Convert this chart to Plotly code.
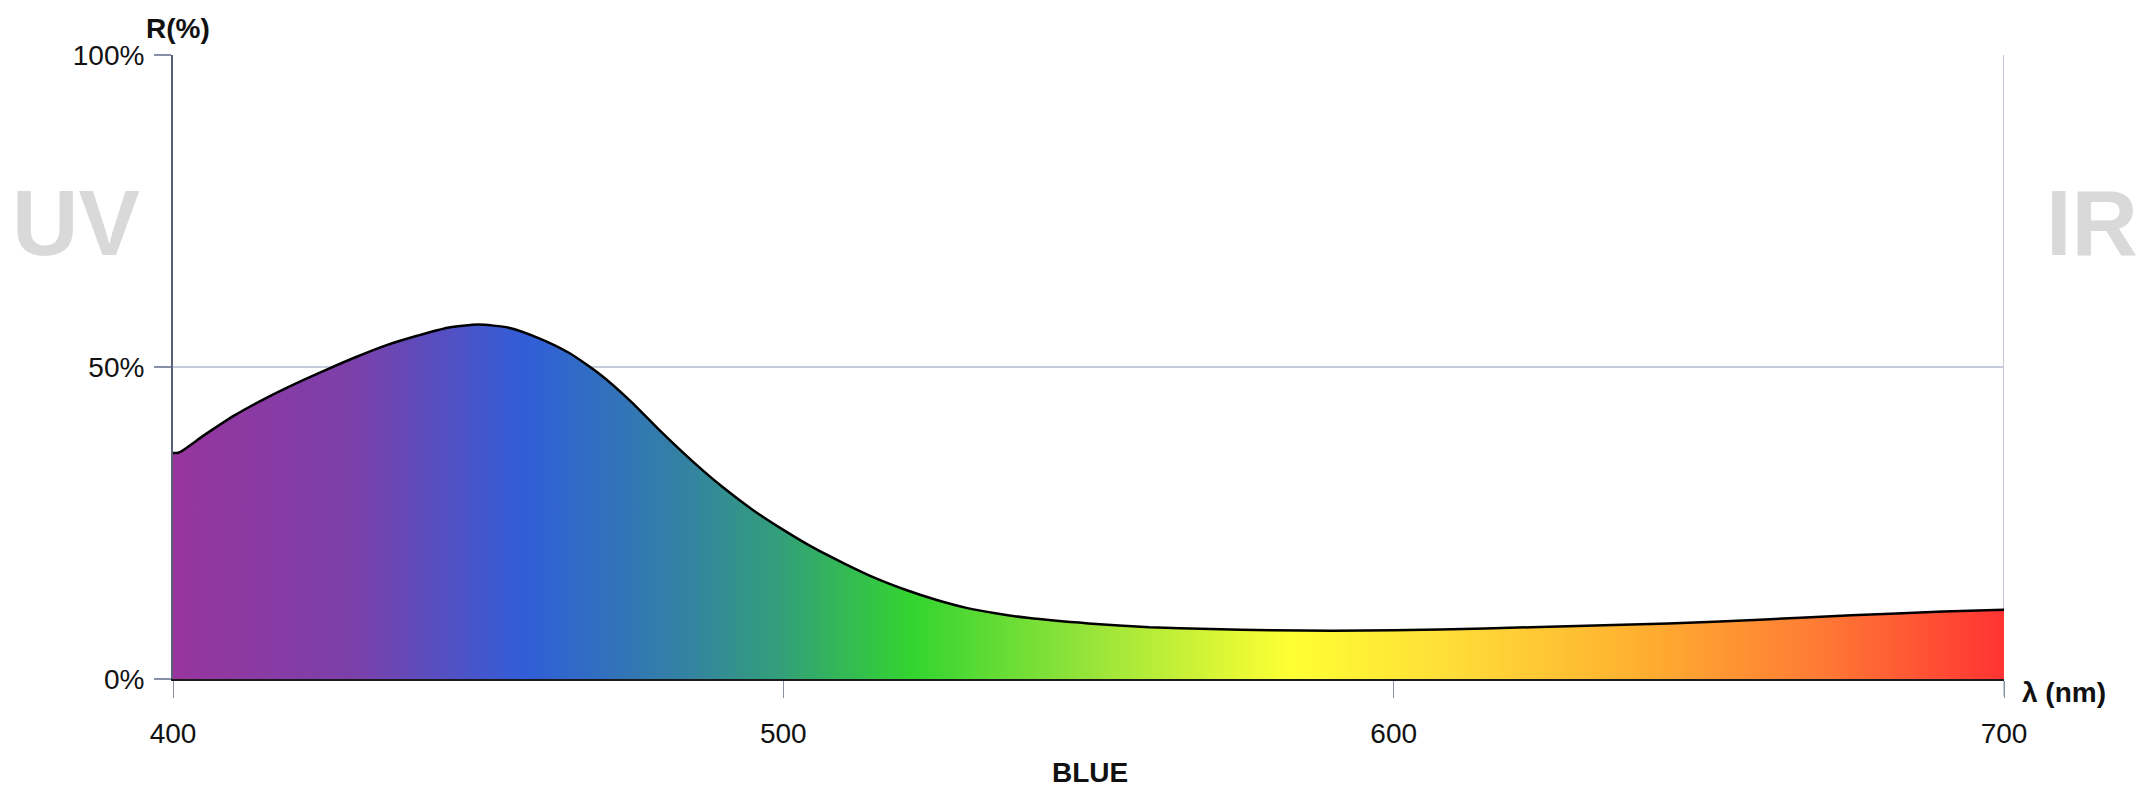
import plotly.graph_objects as go

# Data
wavelength_nm = [400, 401, 405, 410, 415, 420, 425, 430, 435, 440, 445, 450, 455, 460, 465, 470,
                 475, 480, 485, 490, 495, 500, 505, 510, 515, 520, 525, 530, 535, 540, 550,
                 560, 570, 580, 590, 600, 615, 630, 645, 660, 675, 690, 700]
reflectance_pct = [36.2, 36.3, 39.0, 42.2, 44.9, 47.3, 49.5, 51.6, 53.5, 55.0, 56.3, 56.8, 56.3, 54.6, 52.2, 48.8,
                   44.5, 39.6, 35.0, 30.8, 27.1, 23.9, 21.0, 18.5, 16.2, 14.3, 12.7, 11.4, 10.5, 9.8, 8.9,
                   8.3, 8.0, 7.8, 7.75, 7.8, 8.1, 8.5, 8.9, 9.5, 10.2, 10.8, 11.1]

x_ticks = [400, 500, 600, 700]
y_ticks = [0, 50, 100]
y_tick_labels = ["0%", "50%", "100%"]

spectrum_colorscale = [
    [0.000, "#97359d"],
    [0.100, "#7b40aa"],
    [0.193, "#305ed8"],
    [0.283, "#3384a0"],
    [0.333, "#33a078"],
    [0.403, "#33d430"],
    [0.500, "#96e43a"],
    [0.610, "#ffff33"],
    [0.700, "#ffdc38"],
    [0.800, "#ffb030"],
    [0.900, "#ff7a35"],
    [1.000, "#ff3333"],
]

FONT = "Liberation Sans, Arial, sans-serif"

fig = go.Figure()
fig.add_trace(go.Scatter(
    x=wavelength_nm,
    y=reflectance_pct,
    mode="lines",
    line=dict(color="#000000", width=2.5, shape="spline", smoothing=0.6),
    fill="tozeroy",
    fillgradient=dict(type="horizontal", colorscale=spectrum_colorscale),
    hoverinfo="skip",
    showlegend=False,
))

# Light vertical boundary line at the end of the visible range
fig.add_shape(type="line", xref="x", yref="paper",
              x0=x_ticks[-1], x1=x_ticks[-1], y0=-0.027, y1=1,
              line=dict(color="#c3c8d4", width=2), layer="below")

annot_font = dict(family=FONT, color="#111111", size=28)
fig.add_annotation(text="<b>R(%)</b>", xref="paper", yref="paper", x=0.0025, y=1.043,
                   xanchor="center", yanchor="middle", showarrow=False, font=annot_font)
fig.add_annotation(text="<b>λ (nm)</b>", xref="paper", yref="paper", x=1.0085, y=-0.021,
                   xanchor="left", yanchor="middle", showarrow=False, font=annot_font)
fig.add_annotation(text="<b>BLUE</b>", xref="paper", yref="paper", x=0.5007, y=-0.1506,
                   xanchor="center", yanchor="middle", showarrow=False, font=annot_font)
fig.add_annotation(text="<b>UV</b>", xref="paper", yref="paper", x=-0.053, y=0.73,
                   xanchor="center", yanchor="middle", showarrow=False,
                   font=dict(family=FONT, color="#d9d9d9", size=92))
fig.add_annotation(text="<b>IR</b>", xref="paper", yref="paper", x=1.048, y=0.73,
                   xanchor="center", yanchor="middle", showarrow=False,
                   font=dict(family=FONT, color="#d9d9d9", size=92))

fig.update_layout(
    width=2139, height=787, autosize=False,
    margin=dict(l=173, r=135, t=55, b=108, pad=0),
    paper_bgcolor="white", plot_bgcolor="white",
    font=dict(family=FONT, size=28, color="#111111"),
    xaxis=dict(
        range=[x_ticks[0], x_ticks[-1]], tickmode="array", tickvals=x_ticks,
        ticks="outside", ticklen=17, tickwidth=1, tickcolor="#8a92a6",
        ticklabelstandoff=11,
        showgrid=False, zeroline=False,
        showline=True, linecolor="#1a1a1a", linewidth=2,
        tickfont=dict(family=FONT, size=28, color="#111111"),
        fixedrange=True,
    ),
    yaxis=dict(
        range=[0, 100], tickmode="array", tickvals=y_ticks, ticktext=y_tick_labels,
        ticks="outside", ticklen=17, tickwidth=1.5, tickcolor="#8890a8",
        ticklabelstandoff=4,
        showgrid=True, gridcolor="#c5cbd9", gridwidth=1.5, zeroline=False,
        showline=True, linecolor="#5a6078", linewidth=2,
        tickfont=dict(family=FONT, size=28, color="#111111"),
        fixedrange=True,
    ),
)

fig.write_html("out.html", config={"displayModeBar": False})
